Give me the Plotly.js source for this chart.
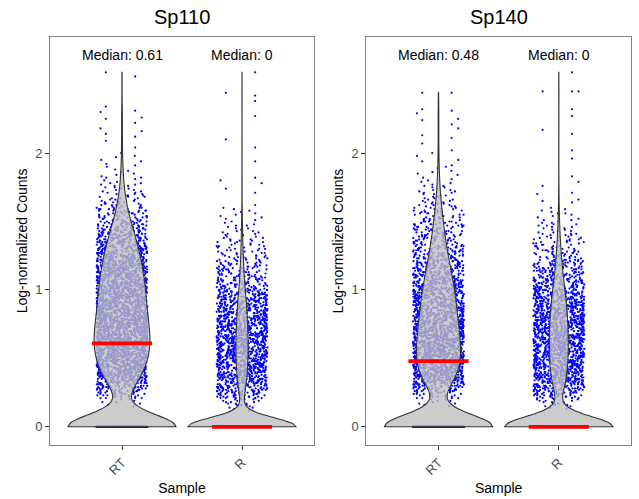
<!DOCTYPE html>
<html>
<head>
<meta charset="utf-8">
<script src="https://cdn.plot.ly/plotly-3.0.1.min.js"></script>
<style>html,body{margin:0;padding:0;background:#fff;}#chart{width:639px;height:499px;}</style>
</head>
<body>
<div id="chart"></div>
<script>
// ---------------- DATA ----------------
const genes = ['Sp110', 'Sp140'];
const samples = ['RT', 'R'];
const mediansSp110 = [0.61, 0];
const mediansSp140 = [0.48, 0];
// number of cells with value 0 in each sample
const zerosSp110 = [1080, 2700];
const zerosSp140 = [1180, 2100];
// counts of cells per 0.01-wide level of log-normalized counts;
// row k holds levels k*0.1+0.01 ... k*0.1+0.10
const sp110RT = [
  [0,0,0,0,0,0,0,0,0,0],
  [0,0,0,0,1,1,1,2,1,2],
  [4,5,6,7,8,8,9,10,11,11],
  [13,14,15,16,16,17,17,18,18,20],
  [20,22,21,23,22,23,22,24,23,25],
  [24,26,25,24,26,27,25,24,26,25],
  [27,24,26,28,25,27,24,25,26,25],
  [25,23,26,24,25,22,25,24,25,24],
  [23,22,24,22,23,21,22,24,22,22],
  [22,23,20,22,22,20,23,21,22,21],
  [21,20,22,20,21,20,20,21,20,20],
  [20,19,19,20,18,19,18,19,18,17],
  [18,17,17,17,16,16,16,16,16,15],
  [15,14,14,13,13,14,12,12,12,12],
  [12,11,11,10,10,10,9,9,9,9],
  [7,7,6,6,6,6,6,6,5,5],
  [4,4,4,4,3,3,3,3,3,3],
  [2,2,2,2,2,2,2,2,1,1],
  [1,2,1,1,1,1,1,1,0,1],
  [1,1,0,1,1,0,1,1,0,1],
  [0,0,0,1,0,0,0,0,1,0],
  [0,1,0,1,0,1,0,1,0,0],
  [0,1,0,0,1,1,0,0,0,1],
  [1,0,0,1,0,0,0,0,0,0],
  [0,0,0,0,0,0,0,0,0,0],
  [0,0,0,0,0,1,0,0,1,0]
];
const sp110R = [
  [0,0,0,0,0,0,0,0,0,0],
  [0,1,1,2,2,3,3,3,3,4],
  [7,8,9,9,10,10,11,11,12,13],
  [13,14,14,15,15,15,16,15,16,17],
  [17,18,17,19,18,18,17,19,18,19],
  [18,20,19,19,20,18,19,19,20,18],
  [19,20,18,19,19,20,19,18,19,19],
  [18,17,17,17,17,17,17,17,17,16],
  [16,15,15,15,15,15,15,15,15,14],
  [13,13,13,12,12,12,12,12,12,11],
  [8,8,8,8,7,7,7,8,7,7],
  [7,6,6,6,6,6,6,5,5,5],
  [4,4,4,4,4,3,4,3,3,3],
  [3,3,3,2,3,3,2,2,2,2],
  [2,2,2,1,2,1,2,1,1,1],
  [1,1,1,1,1,1,1,1,1,1],
  [0,1,0,0,0,0,0,0,0,0],
  [1,0,0,1,0,0,0,1,0,1],
  [0,1,0,0,0,0,0,0,0,0],
  [0,0,0,1,0,0,0,0,0,0],
  [0,0,0,1,0,0,0,0,0,1],
  [0,0,0,0,0,0,0,0,0,0],
  [0,0,0,0,0,0,1,0,0,0],
  [0,0,0,0,0,0,0,1,0,0],
  [0,1,0,1,0,0,0,0,0,0],
  [0,0,0,0,0,0,0,0,1,0]
];
const sp140RT = [
  [0,0,0,0,0,0,0,0,0,0],
  [0,0,0,0,1,1,2,1,2,2],
  [4,4,5,6,7,8,8,9,10,11],
  [14,15,16,17,18,18,19,20,21,22],
  [21,20,22,23,21,20,22,23,22,22],
  [22,23,21,23,22,22,23,22,22,23],
  [22,21,20,22,21,22,20,21,22,21],
  [20,21,19,20,19,20,20,20,19,20],
  [18,19,18,18,18,18,18,19,18,18],
  [18,17,16,17,17,16,16,17,16,16],
  [16,15,15,15,15,15,14,14,14,15],
  [13,13,12,12,12,12,12,12,11,11],
  [10,10,10,10,10,9,9,9,9,9],
  [8,8,7,7,7,7,7,7,7,7],
  [6,6,6,6,5,5,5,6,5,5],
  [4,4,4,4,4,4,4,4,3,3],
  [3,3,3,3,2,2,2,2,2,2],
  [2,2,2,1,2,2,1,1,1,1],
  [1,1,0,1,1,1,1,0,1,1],
  [1,0,0,1,1,0,0,1,0,1],
  [0,1,0,0,0,0,1,0,0,0],
  [1,0,1,0,0,0,0,1,0,0],
  [1,0,0,1,1,0,0,0,1,0],
  [1,1,0,0,0,0,0,0,0,0],
  [0,0,0,2,0,0,0,0,0,0],
  [0,0,0,0,0,0,0,0,0,0]
];
const sp140R = [
  [0,0,0,0,0,0,0,0,0,0],
  [0,0,1,1,2,2,3,3,3,3],
  [6,7,8,9,9,10,11,11,12,12],
  [14,15,15,16,16,16,17,17,17,17],
  [18,19,18,19,19,20,19,19,19,20],
  [19,21,20,20,19,21,20,20,19,21],
  [21,19,20,20,21,19,20,20,21,19],
  [19,19,20,19,19,19,18,19,19,19],
  [17,17,18,17,17,17,17,17,17,16],
  [16,15,15,15,15,15,15,15,15,14],
  [11,11,11,10,11,10,11,10,10,10],
  [9,8,8,8,8,8,8,8,8,7],
  [6,6,5,5,5,5,5,5,5,5],
  [4,4,3,3,4,3,3,3,3,3],
  [3,2,2,2,2,2,2,2,2,1],
  [2,1,1,1,1,2,1,1,1,1],
  [0,0,0,1,1,1,0,0,0,1],
  [1,0,0,0,0,1,0,0,1,0],
  [0,0,1,0,0,0,0,0,0,0],
  [0,0,0,0,0,1,0,0,0,0],
  [0,1,0,0,0,0,0,0,0,0],
  [0,0,0,1,0,0,1,0,0,0],
  [0,0,0,0,0,0,1,0,0,0],
  [0,1,0,0,0,0,0,0,0,0],
  [0,0,0,0,3,0,0,0,0,0],
  [0,0,0,0,0,0,0,0,1,0]
];
const yTicks = [0, 1, 2];
const yLabel = 'Log-normalized Counts';
const xLabel = 'Sample';

// ---------------- BUILD ----------------
function rowValues(rows, r) {
  const v = [];
  rows[r].forEach((c, j) => {
    const val = (r * 10 + j + 1) / 100;
    for (let k = 0; k < c; k++) v.push(val);
  });
  return v;
}
function allValues(zeros, rows) {
  let v = [];
  for (let i = 0; i < zeros; i++) v.push(0);
  rows.forEach((row, r) => { v = v.concat(rowValues(rows, r)); });
  return v;
}
// split the points into bands so the library's jitter keeps a steady width in sparse tails
function pointBands(zeros, rows) {
  const bands = [];
  const z = []; for (let i = 0; i < zeros; i++) z.push(0);
  bands.push(z);
  let cur = null;
  rows.forEach((row, r) => {
    const n = row.reduce((a, b) => a + b, 0);
    if (!n) { cur = null; return; }
    const vals = rowValues(rows, r);
    if (n >= 25) {
      if (!cur) { cur = []; bands.push(cur); }
      vals.forEach(x => cur.push(x));
    } else {
      bands.push(vals); cur = null;
    }
  });
  return bands;
}
function nrd0(arr) {
  const n = arr.length;
  const s = arr.slice().sort((a, b) => a - b);
  const mean = s.reduce((a, b) => a + b, 0) / n;
  const sd = Math.sqrt(s.reduce((a, b) => a + (b - mean) * (b - mean), 0) / (n - 1));
  const q = p => { const h = (n - 1) * p; const lo = Math.floor(h); const hi = Math.min(lo + 1, n - 1); return s[lo] + (h - lo) * (s[hi] - s[lo]); };
  const iqr = q(0.75) - q(0.25);
  let lo = Math.min(sd, iqr / 1.34);
  if (!lo) lo = sd || 1;
  return 0.9 * lo * Math.pow(n, -0.2);
}

const FONT = 'Liberation Sans, Arial, Helvetica, sans-serif';
const groups = [
  {xa: 'x', ya: 'y', zeros: zerosSp110, rows: [sp110RT, sp110R], med: mediansSp110},
  {xa: 'x2', ya: 'y2', zeros: zerosSp140, rows: [sp140RT, sp140R], med: mediansSp140}
];
const traces = [];
const annotations = [];
groups.forEach((g, gi) => {
  // jittered points (drawn underneath)
  g.rows.forEach((rows, si) => {
    pointBands(g.zeros[si], rows).forEach(vals => {
      traces.push({
        type: 'violin', x0: si, y: vals, xaxis: g.xa, yaxis: g.ya,
        width: 0.9, points: 'all', jitter: 0.47, pointpos: 0, spanmode: 'hard',
        fillcolor: 'rgba(0,0,0,0)', line: {width: 0, color: 'rgba(0,0,0,0)'},
        marker: {color: '#0000ff', size: 2.2, line: {width: 0}},
        hoverinfo: 'skip', showlegend: false
      });
    });
  });
  // violin bodies (semi-transparent, above points)
  g.rows.forEach((rows, si) => {
    const vals = allValues(g.zeros[si], rows);
    traces.push({
      type: 'violin', x0: si, y: vals, xaxis: g.xa, yaxis: g.ya,
      width: 0.9, points: false, spanmode: 'hard', bandwidth: nrd0(vals),
      fillcolor: 'rgba(191,191,191,0.8)', line: {width: 1.1, color: '#333333'},
      hoverinfo: 'skip', showlegend: false
    });
  });
  g.med.forEach((m, si) => {
    traces.push({
      type: 'scatter', mode: 'lines', x: [si - 0.25, si + 0.25], y: [m, m],
      xaxis: g.xa, yaxis: g.ya, line: {color: '#ff0000', width: 3.7},
      hoverinfo: 'skip', showlegend: false
    });
    annotations.push({
      xref: g.xa, yref: g.ya, x: si, y: 2.72, text: 'Median: ' + m,
      showarrow: false, font: {size: 14, color: '#000', family: FONT}, xanchor: 'center', yanchor: 'middle'
    });
  });
  annotations.push({
    xref: g.xa + ' domain', yref: g.ya + ' domain', x: 0.5, y: 1.049, text: genes[gi],
    showarrow: false, font: {size: 20, color: '#000', family: FONT}, xanchor: 'center', yanchor: 'middle'
  });
});

function xAxis(domain, anchor) {
  return {
    domain: domain, anchor: anchor, range: [-0.6, 1.6], tickvals: [0, 1], ticktext: samples,
    tickangle: -45, ticks: 'outside', ticklen: 4, tickwidth: 1, tickcolor: '#333333',
    tickfont: {size: 13, color: '#4d4d4d', family: FONT},
    showline: true, mirror: true, linecolor: '#7f7f7f', linewidth: 1,
    showgrid: false, zeroline: false, fixedrange: true,
    title: {text: xLabel, font: {size: 14, color: '#000', family: FONT}, standoff: 6}
  };
}
function yAxis(anchor) {
  return {
    domain: [0, 1], anchor: anchor, range: [-0.133, 2.848], tickvals: yTicks,
    ticks: 'outside', ticklen: 4, tickwidth: 1, tickcolor: '#333333',
    tickfont: {size: 13, color: '#4d4d4d', family: FONT},
    showline: true, mirror: true, linecolor: '#7f7f7f', linewidth: 1,
    showgrid: false, zeroline: false, fixedrange: true,
    title: {text: yLabel, font: {size: 14, color: '#000', family: FONT}, standoff: 4}
  };
}

const layout = {
  width: 639, height: 499,
  margin: {l: 50, r: 8, t: 37, b: 54},
  paper_bgcolor: '#ffffff', plot_bgcolor: '#ffffff',
  font: {family: FONT, color: '#000'},
  showlegend: false, violinmode: 'overlay',
  xaxis: xAxis([0, 0.4544], 'y'),
  yaxis: yAxis('x'),
  xaxis2: xAxis([0.5444, 1], 'y2'),
  yaxis2: yAxis('x2'),
  annotations: annotations
};

Plotly.newPlot('chart', traces, layout, {staticPlot: true, displayModeBar: false});
</script>
</body>
</html>
